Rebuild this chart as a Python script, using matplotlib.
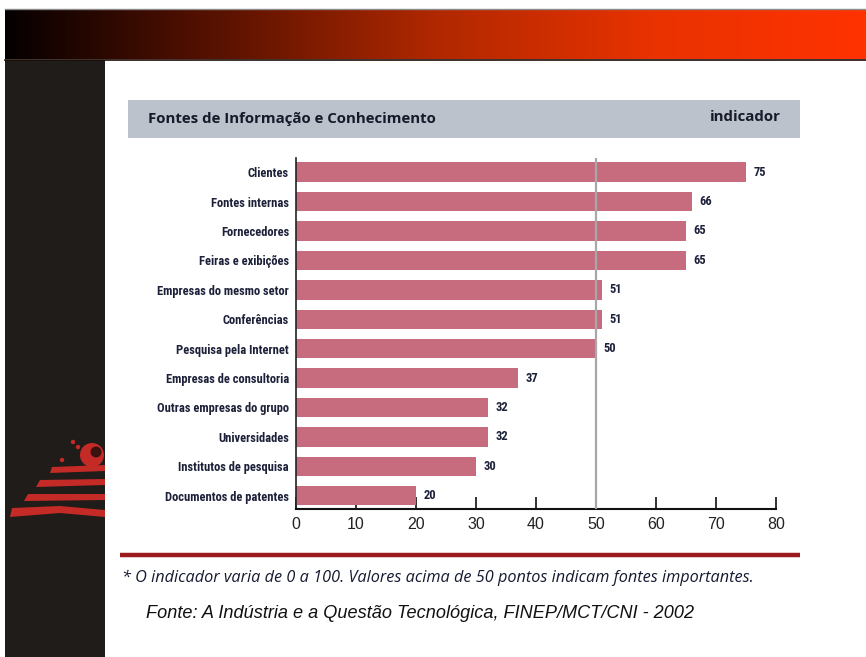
import numpy as np
import matplotlib
matplotlib.use("Agg")
import matplotlib.pyplot as plt
from matplotlib.patches import Rectangle, Polygon, Circle
from matplotlib.colors import LinearSegmentedColormap

# Data
categories = [
    "Clientes", "Fontes internas", "Fornecedores", "Feiras e exibições",
    "Empresas do mesmo setor", "Conferências", "Pesquisa pela Internet",
    "Empresas de consultoria", "Outras empresas do grupo", "Universidades",
    "Institutos de pesquisa", "Documentos de patentes",
]
values = [75, 66, 65, 65, 51, 51, 50, 37, 32, 32, 30, 20]
xticks = [0, 10, 20, 30, 40, 50, 60, 70, 80]
threshold = 50

title = "Fontes de Informação e Conhecimento"
unit_label = "indicador"
footnote = "* O indicador varia de 0 a 100. Valores acima de 50 pontos indicam fontes importantes."
source = "Fonte: A Indústria e a Questão Tecnológica, FINEP/MCT/CNI - 2002"

NARROW = ["Liberation Sans Narrow", "Roboto Condensed", "DejaVu Sans"]

W, H = 866, 657
fig = plt.figure(figsize=(W / 100, H / 100), dpi=100)
fig.patch.set_facecolor("white")

# Slide decoration layer in pixel coordinates
bg = fig.add_axes([0, 0, 1, 1])
bg.set_xlim(0, W)
bg.set_ylim(H, 0)
bg.axis("off")

# top gradient banner
grad = np.linspace(0, 1, 512)[None, :]
cmap = LinearSegmentedColormap.from_list(
    "banner", ["#050000", "#5a1200", "#b02800", "#e83200", "#ff3300"])
bg.imshow(grad, cmap=cmap, aspect="auto", extent=(5, W, 59, 9), zorder=1)
bg.plot([5, W], [8.5, 8.5], color="#8a8a8a", lw=1, zorder=2)
bg.plot([5, W], [59.5, 59.5], color="#1a0a05", lw=1.2, zorder=2)

# dark left column
bg.add_patch(Rectangle((5, 60), 100, H - 60, facecolor="#201c1a", edgecolor="none", zorder=1))

# logo stripes in the left column
red = "#c42a26"
stripes = [
    [(52, 467), (105, 465), (105, 471), (50, 473)],
    [(40, 480), (105, 479), (105, 485), (36, 487)],
    [(28, 494), (105, 494), (105, 500), (24, 501)],
    [(12, 508), (60, 506), (105, 510), (105, 517), (60, 513), (10, 517)],
]
for pts in stripes:
    bg.add_patch(Polygon(pts, closed=True, facecolor=red, edgecolor="none", zorder=3))
bg.add_patch(Circle((92, 455), 12, facecolor=red, edgecolor="none", zorder=3))
bg.add_patch(Circle((96, 452), 5.5, facecolor="#3a1210", edgecolor="none", zorder=4))
for sx, sy in [(73, 442), (62, 460), (78, 447)]:
    bg.add_patch(Circle((sx, sy), 2.2, facecolor=red, edgecolor="none", zorder=3))

# header band
bg.add_patch(Rectangle((128, 100), 672, 38, facecolor="#bcc2cc", edgecolor="none", zorder=1))
bg.text(148, 119, title, fontsize=10.8, fontweight="bold", color="#161a2a",
        va="center", ha="left", family="Open Sans", zorder=3)
bg.text(781, 117, unit_label, fontsize=10.8, fontweight="bold", color="#161a2a",
        va="center", ha="right", family="Open Sans", zorder=3)

# bottom rule and notes
bg.plot([120, 800], [555, 555], color="#9a1a1e", lw=3.2, solid_capstyle="butt", zorder=2)
bg.text(122, 578, footnote, fontsize=11.7, style="italic", color="#151a30",
        va="center", ha="left", family="Open Sans", zorder=3)
bg.text(146, 613, source, fontsize=13.1, style="italic", color="#111111",
        va="center", ha="left", family="Liberation Sans", zorder=3)

# Bar chart
ax = fig.add_axes([296 / W, 1 - 509 / H, (776 - 296) / W, (509 - 158) / H])
ax.set_facecolor("none")
ypos = np.arange(len(categories))
bar_color = "#c76b7e"
ax.barh(ypos, values, height=0.66, color=bar_color, edgecolor="none", zorder=2)
ax.axvline(threshold, color="#a8a8a8", lw=1.6, zorder=3)

for y, v in zip(ypos, values):
    ax.text(v + 1.2, y, str(v), fontsize=9, fontweight="bold", color="#1c2038",
            va="center", ha="left", family=NARROW, fontstretch="condensed")

ax.set_xlim(0, 80)
ax.set_ylim(len(categories) - 1 + 0.45, -0.48)
ax.set_yticks(ypos)
ax.set_yticklabels(categories, fontsize=9, fontweight="bold", color="#1c2038",
                   family=NARROW, fontstretch="condensed")
ax.tick_params(axis="y", length=0, pad=5)
ax.set_xticks(xticks)
ax.set_xticklabels([str(t) for t in xticks], fontsize=11.5, color="#222222",
                   family="Liberation Sans")
ax.tick_params(axis="x", direction="in", length=9, width=1.2, color="#111111", pad=6)

for side in ["top", "right"]:
    ax.spines[side].set_visible(False)
ax.spines["left"].set_color("#222222")
ax.spines["left"].set_linewidth(1.2)
ax.spines["bottom"].set_color("#111111")
ax.spines["bottom"].set_linewidth(1.5)

fig.savefig("out.png", dpi=100)
